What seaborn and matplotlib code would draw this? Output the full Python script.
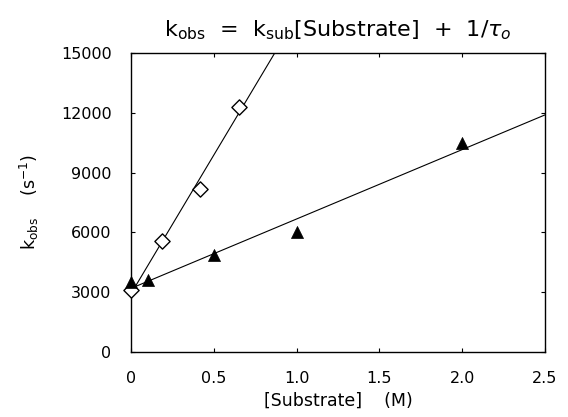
import matplotlib
matplotlib.use("Agg")
import matplotlib.pyplot as plt
import pandas as pd
import seaborn as sns

# open diamonds
diamond_conc = [0.0, 0.19, 0.415, 0.65]
diamond_kobs = [3100, 5570, 8180, 12290]

# filled triangles
triangle_conc = [0.0, 0.1, 0.5, 1.0, 2.0]
triangle_kobs = [3500, 3600, 4870, 6020, 10490]

x_ticks = [0, 0.5, 1.0, 1.5, 2.0, 2.5]
x_tick_labels = ["0", "0.5", "1.0", "1.5", "2.0", "2.5"]
y_ticks = [0, 3000, 6000, 9000, 12000, 15000]

sns.set_style("ticks", {"xtick.direction": "in", "ytick.direction": "in",
                        "text.color": "black", "axes.labelcolor": "black",
                        "xtick.color": "black", "ytick.color": "black"})
plt.rcParams["font.family"] = ["DejaVu Sans"]

fig = plt.figure(figsize=(5.68, 4.17), dpi=100)
ax = fig.add_axes([0.2306, 0.156, 0.729, 0.717])

ax.set_xlim(0, 2.5)
ax.set_ylim(0, 15000)

df_d = pd.DataFrame({"conc": diamond_conc, "kobs": diamond_kobs})
df_t = pd.DataFrame({"conc": triangle_conc, "kobs": triangle_kobs})

# least-squares lines across the whole x range
line_style = {"color": "black", "lw": 0.8}
sns.regplot(data=df_d, x="conc", y="kobs", ax=ax, scatter=False, ci=None,
            truncate=False, line_kws=line_style)
sns.regplot(data=df_t, x="conc", y="kobs", ax=ax, scatter=False, ci=None,
            truncate=False, line_kws=line_style)

sns.scatterplot(data=df_d, x="conc", y="kobs", ax=ax, marker="D", s=60,
                facecolor="white", edgecolor="black", linewidth=1.0,
                clip_on=False, zorder=3)
sns.scatterplot(data=df_t, x="conc", y="kobs", ax=ax, marker="^", s=75,
                color="black", edgecolor="black", linewidth=0.5,
                clip_on=False, zorder=3)

ax.set_xlim(0, 2.5)
ax.set_ylim(0, 15000)
ax.set_xticks(x_ticks)
ax.set_xticklabels(x_tick_labels)
ax.set_yticks(y_ticks)
ax.set_yticklabels([str(v) for v in y_ticks])
ax.tick_params(axis="both", which="both", direction="in", length=3, width=0.8,
               top=True, right=True, labelsize=11.5, pad=14, colors="black")

for s in ax.spines.values():
    s.set_linewidth(1.0)
    s.set_color("black")

ax.set_xlabel("[Substrate]    (M)", fontsize=12.5, labelpad=4)
ax.set_ylabel(r"$\mathrm{k_{obs}}$    (s$^{-1}$)", fontsize=12.5, labelpad=14)
ax.set_title(r"$\mathrm{k_{obs}}$  =  $\mathrm{k_{sub}}$[Substrate]  +  1/$\tau_o$",
             fontsize=16, pad=12)

fig.savefig("out.png", dpi=100)
